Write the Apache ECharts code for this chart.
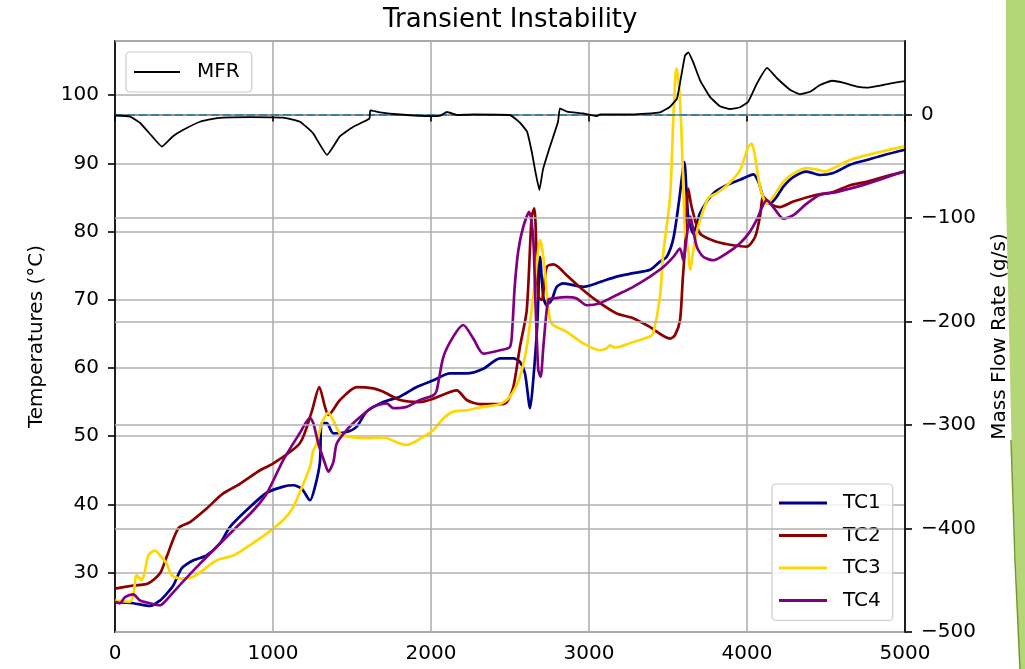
<!DOCTYPE html>
<html>
<head>
<meta charset="utf-8">
<script src="https://cdn.jsdelivr.net/npm/echarts@6/dist/echarts.min.js"></script>
<style>html,body{margin:0;padding:0;background:#fff;overflow:hidden}#c{width:1025px;height:669px}</style>
</head>
<body>
<div id="c"></div>
<script>
// time (s), value
const xTicks = [0, 1000, 2000, 3000, 4000, 5000];
const tempTicks = [30, 40, 50, 60, 70, 80, 90, 100];
const mfrTicks = [-500, -400, -300, -200, -100, 0];

const tc1 = [[0,25.7],[116,25.5],[222,25.1],[285,25.9],[327,26.9],[369,28.1],[422,30.6],[496,31.8],[580,32.5],[665,34.3],[728,36.7],[854,39.6],[960,41.7],[1065,42.6],[1128,42.8],[1182,42.3],[1234,40.6],[1266,42.6],[1297,46.2],[1308,51.9],[1340,51.9],[1382,50.4],[1466,50.6],[1530,51.4],[1593,53.6],[1698,55],[1804,55.8],[1909,57.2],[2015,58.2],[2120,59.2],[2226,59.2],[2331,59.9],[2437,61.4],[2521,61.4],[2563,60.9],[2595,59.2],[2627,54.1],[2647,58.2],[2673,66.5],[2690,76.3],[2711,70.4],[2732,69.2],[2764,70],[2796,71.9],[2837,72.4],[2964,71.9],[3070,72.6],[3175,73.4],[3280,73.9],[3386,74.4],[3449,75.6],[3492,76.3],[3534,79],[3570,84.5],[3603,90.2],[3628,82.2],[3660,79.7],[3703,82.7],[3787,85.6],[3871,86.8],[3956,87.6],[4041,88.4],[4072,87.3],[4103,85.1],[4146,84.1],[4188,85.1],[4230,86.6],[4293,88],[4378,88.8],[4462,88.3],[4546,88.6],[4652,89.8],[4758,90.5],[4863,91.2],[5000,92]];

const tc2 = [[0,27.65],[116,28.1],[209,28.4],[285,29.9],[327,32.3],[401,36.5],[475,37.4],[580,39.4],[685,41.6],[791,43],[918,45],[1002,46],[1171,49],[1245,53.6],[1293,57.2],[1329,54.3],[1350,53.1],[1424,55.3],[1530,57.2],[1635,57],[1698,56.5],[1804,55.3],[1930,55],[2015,55.5],[2163,56.7],[2226,55.3],[2310,54.7],[2437,54.7],[2480,55],[2521,57.2],[2563,63.1],[2606,68.5],[2637,82.2],[2654,83.4],[2679,70.4],[2701,70],[2732,74.8],[2774,75.2],[2806,74.8],[2859,73.6],[2964,71.4],[3070,69.5],[3175,68],[3280,67.3],[3386,66],[3513,64.3],[3544,64.8],[3576,67],[3593,72.9],[3608,77.8],[3628,86.3],[3650,83.6],[3703,79.7],[3808,78.5],[3911,78],[3998,77.8],[4051,79.2],[4082,82.2],[4103,85.1],[4146,84.1],[4209,83.6],[4293,84.4],[4441,85.4],[4546,85.8],[4652,86.8],[4758,87.3],[4863,88],[5000,88.8]];

const tc3 = [[0,25.9],[95,25.7],[116,26.7],[137,29.6],[169,28.9],[190,30.3],[211,32.5],[253,33.2],[285,32.5],[327,31.3],[359,29.6],[422,29.1],[496,29.4],[559,30.4],[644,31.8],[749,32.5],[854,34],[960,35.7],[1065,37.7],[1128,39.6],[1192,43],[1234,45.5],[1255,47.9],[1277,48.9],[1308,51.9],[1350,53.4],[1382,52.3],[1424,50.4],[1487,49.9],[1593,49.7],[1698,49.8],[1804,48.9],[1846,48.7],[1909,49.3],[1951,49.9],[2015,50.9],[2078,52.6],[2141,53.6],[2226,53.8],[2331,54.3],[2437,54.7],[2500,55.8],[2563,58.7],[2606,63.1],[2647,70.4],[2669,75.3],[2690,78.8],[2711,76.3],[2742,69],[2764,66.5],[2859,65.3],[2964,63.6],[3070,62.6],[3112,62.9],[3133,63.3],[3165,63],[3280,63.8],[3386,64.6],[3407,65.1],[3449,70.4],[3470,76.8],[3513,85],[3534,96.8],[3549,103.4],[3555,103.9],[3576,99.3],[3593,89.5],[3608,79.7],[3628,77.3],[3639,74.4],[3671,78.8],[3703,81.7],[3755,84.9],[3808,85.6],[3892,87.2],[3956,89],[4008,92.4],[4030,92.9],[4051,91],[4082,86.6],[4125,84.1],[4166,85.1],[4230,87.3],[4293,88.5],[4378,89.3],[4462,89],[4494,88.8],[4546,89.3],[4652,90.5],[4758,91.2],[4863,91.8],[5000,92.5]];

const tc4 = [[0,25.7],[32,25.5],[63,26.4],[116,26.8],[158,25.9],[222,25.5],[285,25.2],[306,25.5],[390,27.65],[538,31.3],[749,36.2],[875,39.1],[960,41.6],[1065,46.5],[1171,50.5],[1234,52.7],[1255,51.9],[1287,48.9],[1329,46],[1350,44.8],[1382,46.2],[1403,48.9],[1466,50.9],[1551,52.8],[1635,54.3],[1720,54.8],[1761,54.1],[1846,54.3],[1930,55.3],[2015,56],[2036,56.7],[2078,61.6],[2141,64.6],[2204,66.3],[2268,64.3],[2331,62.1],[2437,62.6],[2500,63.1],[2515,66],[2530,72],[2553,77.3],[2584,80.7],[2622,82.9],[2640,80.7],[2650,77.8],[2660,70.4],[2679,59.7],[2694,58.7],[2711,63.1],[2742,70],[2774,70.2],[2859,70.4],[2922,70.2],[2985,69.2],[3070,69.5],[3175,70.7],[3280,71.9],[3386,73.4],[3470,74.8],[3534,76.3],[3576,77.5],[3597,75.8],[3618,79.2],[3639,82.2],[3682,77.8],[3723,76.3],[3787,75.8],[3871,76.8],[3956,78.3],[4019,80],[4061,81.7],[4125,84.6],[4166,83.6],[4230,81.9],[4293,82.4],[4378,84.1],[4462,85.4],[4546,85.7],[4652,86.3],[4758,87],[4863,87.8],[5000,88.9]];

const mfr = [[0,-1],[95,-2],[158,-8],[234,-21],[297,-31],[367,-21],[430,-15],[538,-7],[646,-3.5],[854,-2.5],[1063,-3],[1171,-7],[1253,-18],[1342,-39],[1424,-21],[1506,-12],[1610,-4],[1616,4],[1677,2],[1804,0],[1994,-1.5],[2060,-1],[2101,2.4],[2165,-0.5],[2266,0],[2500,-0.5],[2563,-8],[2608,-16.6],[2639,-37],[2658,-53],[2686,-73],[2709,-53],[2753,-31],[2804,-7],[2816,6],[2861,2.7],[2962,1],[3051,-1.5],[3070,0],[3278,0],[3449,2],[3513,7.5],[3557,15.6],[3587,40],[3608,57],[3628,60],[3658,51],[3703,33],[3766,17],[3829,8],[3892,5.3],[3956,7],[4006,12],[4063,30],[4127,45],[4190,35],[4272,24],[4335,19.5],[4399,22],[4462,28.5],[4538,32.6],[4608,30.7],[4696,27],[4759,26],[4861,28.5],[4987,32],[5000,32]];

const FONT = 'DejaVu Sans';
const chart = echarts.init(document.getElementById('c'), null, {renderer: 'canvas'});
const minus = v => (v < 0 ? '\u2212' + Math.abs(v) : String(v));

function tcSeries(name, data, color) {
  return {
    name, type: 'line', data, yAxisIndex: 0, showSymbol: false, symbol: 'none',
    smooth: 0.25, z: 2,
    lineStyle: {color, width: 2.7}, itemStyle: {color}
  };
}

chart.setOption({
  animation: false,
  backgroundColor: '#ffffff',
  title: {
    text: 'Transient Instability', left: 378, top: 2,
    textStyle: {fontFamily: FONT, fontSize: 26, fontWeight: 'normal', color: '#000'}
  },
  grid: {left: 115, right: 120, top: 41, bottom: 37, show: true, borderColor: '#000', borderWidth: 1.6, backgroundColor: 'transparent'},
  legend: [
    {
      data: ['MFR'], left: 126, top: 52, z: 6, selectedMode: false,
      icon: 'rect', itemWidth: 46, itemHeight: 2,
      padding: [10, 12, 10, 8],
      backgroundColor: 'rgba(255,255,255,0.85)', borderColor: '#cccccc', borderWidth: 1.2, borderRadius: 4,
      textStyle: {fontFamily: FONT, fontSize: 20, color: '#000', padding: [0, 0, 0, 12]}
    },
    {
      data: ['TC1', 'TC2', 'TC3', 'TC4'], orient: 'vertical', left: 772, top: 484, z: 3, selectedMode: false,
      icon: 'rect', itemWidth: 48, itemHeight: 3, itemGap: 10.5,
      padding: [8, 12, 9, 7],
      backgroundColor: 'rgba(255,255,255,0.85)', borderColor: '#cccccc', borderWidth: 1.2, borderRadius: 4,
      textStyle: {fontFamily: FONT, fontSize: 20, color: '#000', lineHeight: 22, padding: [0, 0, 0, 11]}
    }
  ],
  xAxis: {
    type: 'value', min: 0, max: 5000, interval: 1000,
    axisLine: {show: true, lineStyle: {color: '#000', width: 1.6}},
    axisTick: {show: true, inside: false, length: 7, lineStyle: {color: '#000', width: 1.6}},
    axisLabel: {fontFamily: FONT, fontSize: 20, color: '#000', margin: 12, formatter: v => String(v)},
    splitLine: {show: true, lineStyle: {color: '#b0b0b0', width: 1.6}}
  },
  yAxis: [
    {
      type: 'value', min: 21.28, max: 107.95, splitNumber: 8, minInterval: 10, maxInterval: 10,
      position: 'left', z: 0,
      name: 'Temperatures (\u00b0C)', nameLocation: 'middle', nameGap: 68,
      nameTextStyle: {fontFamily: FONT, fontSize: 20, color: '#000'},
      axisLine: {show: true, lineStyle: {color: '#000', width: 1.6}},
      axisTick: {show: true, length: 7, lineStyle: {color: '#000', width: 1.6}},
      axisLabel: {fontFamily: FONT, fontSize: 20, color: '#000', margin: 16, showMinLabel: false, showMaxLabel: false},
      splitLine: {show: true, lineStyle: {color: '#b0b0b0', width: 1.6}}
    },
    {
      type: 'value', min: -500, max: 71, interval: 100,
      position: 'right', z: 4,
      name: 'Mass Flow Rate (g/s)', nameLocation: 'middle', nameGap: 85,
      nameTextStyle: {fontFamily: FONT, fontSize: 20, color: '#000'},
      axisLine: {show: true, lineStyle: {color: '#000', width: 1.6}},
      axisTick: {show: true, length: 7, lineStyle: {color: '#000', width: 1.6}},
      axisLabel: {fontFamily: FONT, fontSize: 20, color: '#000', margin: 16, showMaxLabel: false, formatter: minus},
      splitLine: {show: true, lineStyle: {color: '#b0b0b0', width: 1.6}}
    }
  ],
  series: [
    tcSeries('TC1', tc1, '#00008b'),
    tcSeries('TC2', tc2, '#8b0000'),
    tcSeries('TC3', tc3, '#ffd700'),
    tcSeries('TC4', tc4, '#800080'),
    {
      name: 'MFR', type: 'line', data: mfr, yAxisIndex: 1, showSymbol: false, symbol: 'none',
      smooth: 0.12, z: 5,
      lineStyle: {color: '#000000', width: 1.8}, itemStyle: {color: '#000000'},
      markLine: {
        silent: true, symbol: ['none', 'none'], label: {show: false},
        lineStyle: {color: '#1f77b4', width: 1.6, type: [8, 4]},
        data: [{yAxis: 0}]
      }
    }
  ],
  graphic: {
    elements: [
      {
        type: 'rect', z: 100, silent: true, x: 1006, y: 0,
        shape: {x: 0, y: 0, width: 25, height: 200},
        style: {fill: '#b5d676'}
      },
      {
        type: 'polygon', z: 100, silent: true,
        shape: {points: [[1006, 199], [1030, 199], [1030, 675], [1020, 675], [1012, 460]]},
        style: {fill: '#b5d676'}
      },
      {
        type: 'polyline', z: 101, silent: true,
        shape: {points: [[1011, 440], [1015, 560], [1020, 669]]},
        style: {stroke: '#6f9a34', lineWidth: 1.5}
      }
    ]
  }
});
</script>
</body>
</html>
